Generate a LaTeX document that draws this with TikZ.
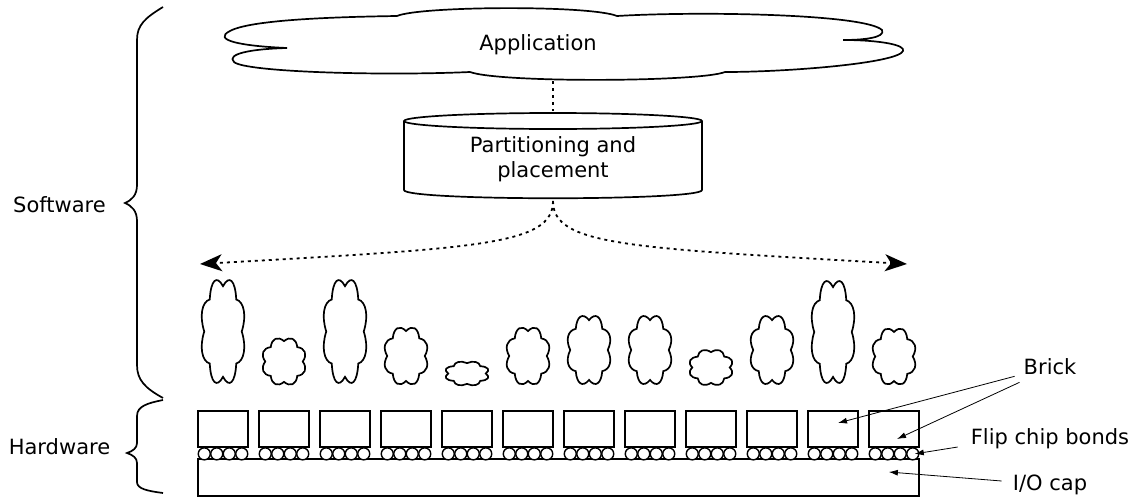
\documentclass[tikz,border=0pt]{standalone}
\usepackage{fontspec}
\setmainfont{DejaVu Sans}
\usetikzlibrary{arrows.meta}

\begin{document}
\begin{tikzpicture}[x=1pt,y=-1pt,>={Stealth[length=22pt,width=17pt,inset=6pt]},
  font=\fontsize{21}{25}\selectfont,
  outline/.style={line width=1.7pt},
  dots/.style={line width=1.8pt,dash pattern=on 3pt off 4pt},
  brickbox/.style={draw,line width=1.7pt,minimum width=50pt,minimum height=36pt,inner sep=0pt},
  ball/.style={circle,draw,fill=white,line width=1.4pt,minimum size=12pt,inner sep=0pt},
  lbl/.style={inner sep=2pt},
  pointer/.style={-{Latex[length=9pt,width=6pt]},line width=0.8pt}]
  \useasboundingbox (0,0) rectangle (1145,498);

  \draw[outline] (287,48) .. controls (240,46) and (212,40) .. (230,31)
    .. controls (250,20) and (330,17) .. (397,16)
    .. controls (420,6) and (590,5) .. (617,16)
    .. controls (700,11) and (865,14) .. (882,30)
    .. controls (886,38) and (862,40) .. (843,40)
    .. controls (880,40) and (906,45) .. (903,51)
    .. controls (898,63) and (790,72) .. (725,72)
    .. controls (700,82) and (500,83) .. (470,72)
    .. controls (380,76) and (245,72) .. (234,62)
    .. controls (226,54) and (250,49) .. (287,48) -- cycle;
  \node (app) at (538,45) {Application};

  \draw[outline] (404,121) -- (404,190) .. controls (404,201) and (702,201) .. (702,190) -- (702,121);
  \draw[outline] (553,121) ellipse [x radius=149, y radius=8];
  \node[align=center] (part) at (553,159) {Partitioning and\\placement};

  \coordinate (apptail) at (553,81);
  \coordinate (parttop) at (553,111);
  \coordinate (partbot) at (553,201);
  \coordinate (west) at (200,264);
  \coordinate (east) at (907,264);

  \draw[dots] (apptail) -- (parttop);
  \draw[dots,->] (partbot) .. controls (553,245) and (480,248) .. (west);
  \draw[dots,->] (partbot) .. controls (553,245) and (626,248) .. (east);

  \node[draw,outline,minimum width=721pt,minimum height=37pt,inner sep=0pt] (cap) at (558.5,477.5) {};

  \foreach \i/\h in {1/109,2/49,3/109,4/60,5/25,6/60,7/72,8/72,9/37,10/72,11/108,12/59} {
    \pgfmathsetmacro\cx{162+61*\i}
    \pgfmathsetmacro\cy{386-\h/2}
    \pgfmathsetmacro\ry{\h/2/1.058}
    \draw[outline] ({\cx+0.88*21.3},\cy)
      \foreach \t in {0,45,...,315} {
        .. controls ({\cx+1.15*21.3*cos(\t+15)},{\cy+1.15*\ry*sin(\t+15)})
        and ({\cx+1.15*21.3*cos(\t+30)},{\cy+1.15*\ry*sin(\t+30)})
        .. ({\cx+0.88*21.3*cos(\t+45)},{\cy+0.88*\ry*sin(\t+45)})
      } -- cycle;
    \node[brickbox] (b\i) at ({162+61*\i},429) {};
    \foreach \k in {1,...,4}
      \node[ball] (f\i-\k) at ([shift={({12.5*\k-31.25},6)}]b\i.south) {};
  }

  \draw[outline] (163,7) .. controls (145,18) and (137,25) .. (137,40) -- (137,185)
    .. controls (137,195) and (132,200) .. (125,203)
    .. controls (132,206) and (137,211) .. (137,221) -- (137,365)
    .. controls (137,380) and (145,388) .. (163,398);
  \draw[outline] (163,400) .. controls (148,403) and (137,406) .. (137,416) -- (137,443)
    .. controls (137,448) and (133,451) .. (127,453)
    .. controls (133,455) and (137,458) .. (137,463) -- (137,482)
    .. controls (137,489) and (148,491) .. (163,493);
  \node (soft) at (59.5,205) {Software};
  \node (hard) at (59.5,447) {Hardware};

  \node[lbl] (bricklbl) at (1050,367) {Brick};
  \node[lbl] (flip) at (1050,439) {Flip chip bonds};
  \node[lbl] (iolbl) at (1050,485) {I/O cap};

  \path[pointer]
  ([shift={(-7,-1)}]bricklbl.south west) edge ([shift={(5,-6)}]b11.center)
  ([shift={(-2,5)}]bricklbl.south west) edge ([shift={(3,10)}]b12.center)
  ([shift={(-11,8)}]flip.west) edge ([xshift=2pt]f12-4.center)
  ([shift={(-9,-4)}]iolbl.west) edge ([shift={(-31,-5.5)}]cap.east);
\end{tikzpicture}
\end{document}
